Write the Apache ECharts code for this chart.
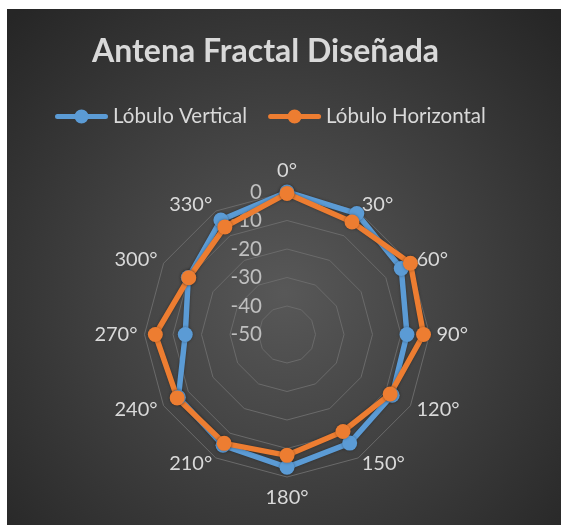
<!DOCTYPE html>
<html>
<head>
<meta charset="utf-8">
<script src="https://cdn.jsdelivr.net/npm/echarts@6/dist/echarts.min.js"></script>
<style>
html,body{margin:0;padding:0;background:#ffffff;width:561px;height:525px;overflow:hidden;}
#chart{position:absolute;left:7px;top:9px;width:554px;height:516px;}
</style>
</head>
<body>
<div id="chart"></div>
<script>
const categories = ['0°','30°','60°','90°','120°','150°','180°','210°','240°','270°','300°','330°'];
const vertical = [0, -1, -3.7, -7.9, -7.4, -6, -3.4, -5.1, -6, -14.3, -10, -3.6];
const horizontal = [-0.5, -4.4, 0, -2.1, -8.2, -10.7, -7.6, -5.9, -5.5, -3.8, -10.2, -6.4];
const radialTicks = [0, -10, -20, -30, -40, -50];
const titleText = 'Antena Fractal Diseñada';
const seriesNames = ['Lóbulo Vertical', 'Lóbulo Horizontal'];

// ECharts radar runs counter-clockwise; reorder so categories go clockwise
const order = categories.map((_, i) => (categories.length - i) % categories.length);
const reorder = arr => order.map(i => arr[i]);

const chart = echarts.init(document.getElementById('chart'));
const legendIcon = 'path://M2.5,4.5 L50.5,4.5 A2.5,2.5 0 0,1 50.5,9.5 L2.5,9.5 A2.5,2.5 0 0,1 2.5,4.5 Z M19.5,7 A7,7 0 1,1 33.5,7 A7,7 0 1,1 19.5,7 Z';

const indicator = reorder(categories).map((c, i) => {
  const o = {name: c, min: radialTicks[radialTicks.length - 1], max: radialTicks[0]};
  if (i === 0) {
    o.axisLabel = {show: true};
  }
  if (c === '0°' || c === '180°') {
    o.nameGap = 11;
  }
  return o;
});

chart.setOption({
  backgroundColor: {
    type: 'radial', x: 0.5, y: 0.55, r: 0.75,
    colorStops: [{offset: 0, color: '#585858'}, {offset: 1, color: '#262626'}]
  },
  animation: false,
  title: {
    text: titleText,
    left: 85, top: 27, padding: 0,
    textStyle: {fontFamily: 'Lato', fontWeight: 'bold', fontSize: 32, color: '#d9d9d9'}
  },
  legend: {
    left: 48, top: 97, padding: 0,
    itemWidth: 53, itemHeight: 14, itemGap: 21,
    icon: legendIcon,
    textStyle: {fontFamily: 'Lato', fontSize: 20.5, color: '#d9d9d9'},
    data: seriesNames
  },
  radar: {
    center: [280, 325.5],
    radius: 142.5,
    startAngle: 90,
    splitNumber: 5,
    shape: 'polygon',
    indicator: indicator,
    axisName: {color: '#d9d9d9', fontFamily: 'Lato', fontSize: 20},
    nameGap: 7,
    axisLine: {show: false},
    axisTick: {show: false},
    splitArea: {show: false},
    splitLine: {lineStyle: {color: '#6a6a6a', width: 1}},
    axisLabel: {
      show: false, color: '#bfbfbf', fontFamily: 'Lato', fontSize: 20.5,
      align: 'right', margin: 25, showMinLabel: true, showMaxLabel: true
    }
  },
  series: [{
    type: 'radar',
    symbol: 'circle', symbolSize: 15,
    data: [
      {name: seriesNames[0], value: reorder(vertical),
       lineStyle: {color: '#5b9bd5', width: 5.5, shadowBlur: 3, shadowColor: 'rgba(0,0,0,0.35)'},
       itemStyle: {color: '#5b9bd5', shadowBlur: 3, shadowColor: 'rgba(0,0,0,0.35)'}},
      {name: seriesNames[1], value: reorder(horizontal),
       lineStyle: {color: '#ed7d31', width: 5.5, shadowBlur: 3, shadowColor: 'rgba(0,0,0,0.35)'},
       itemStyle: {color: '#ed7d31', shadowBlur: 3, shadowColor: 'rgba(0,0,0,0.35)'}}
    ]
  }]
});
</script>
</body>
</html>
